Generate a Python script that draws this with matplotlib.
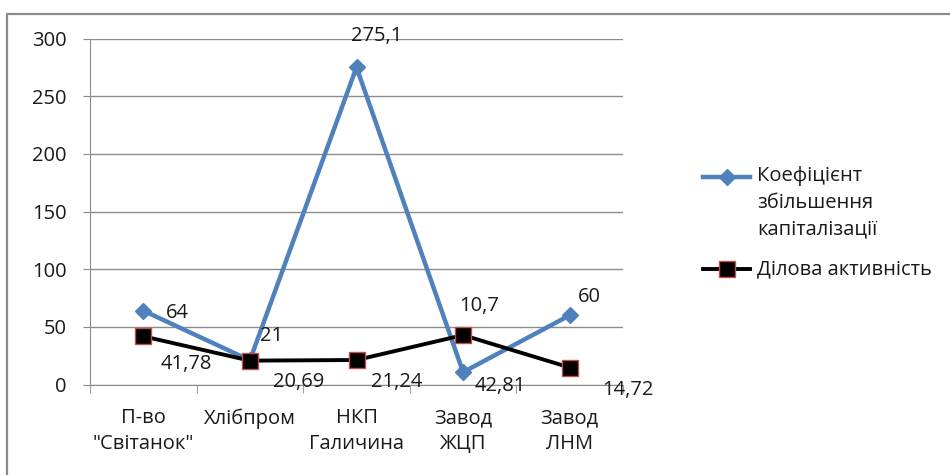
import matplotlib.pyplot as plt
from matplotlib.patches import Rectangle
from matplotlib.lines import Line2D

plt.rcParams['font.family'] = ['Open Sans', 'DejaVu Sans']

categories = ['П-во\n"Світанок"', 'Хлібпром', 'НКП\nГаличина', 'Завод\nЖЦП', 'Завод\nЛНМ']
kapital = [64, 21, 275.1, 10.7, 60]
dilova = [41.78, 20.69, 21.24, 42.81, 14.72]
kapital_label = 'Коефіцієнт\nзбільшення\nкапіталізації'
dilova_label = 'Ділова активність'

# label offsets in pixels (placement only)
kap_off = [(34, -2), (22, 24), (20, 31), (16, 66), (20, 18)]
dil_off = [(43, -28), (49, -21), (40, -22), (37, -51), (58, -22)]

blue = '#4F81BD'
grid_c = '#8c8c8c'
txt_c = '#1a1a1a'
fs = 14.5

fig = plt.figure(figsize=(9.5, 4.75), dpi=100)
ax = fig.add_axes([90 / 950, 1 - 384.5 / 475, 533 / 950, 346 / 475])

x = list(range(len(categories)))
ax.plot(x, kapital, color=blue, lw=3.2, marker='D', ms=8, mfc=blue, mec=blue, zorder=3)
ax.plot(x, dilova, color='black', lw=2.8, marker='s', ms=11.5, mfc='black', mec='#c0504d',
        mew=1, zorder=4)

for i in x:
    ax.annotate(f'{kapital[i]:g}'.replace('.', ','), (i, kapital[i]), xytext=kap_off[i],
                textcoords='offset pixels', ha='center', va='center', fontsize=fs, color=txt_c,
                zorder=5)
    ax.annotate(f'{dilova[i]:g}'.replace('.', ','), (i, dilova[i]), xytext=dil_off[i],
                textcoords='offset pixels', ha='center', va='center', fontsize=fs, color=txt_c,
                zorder=5)

ax.set_xlim(-0.5, len(categories) - 0.5)
ax.set_ylim(0, 300)
ax.set_yticks(range(0, 301, 50))
ax.yaxis.grid(True, color=grid_c, lw=1)
ax.set_axisbelow(True)
ax.set_xticks(x)
ax.set_xticklabels(categories, fontsize=fs, color=txt_c, linespacing=1.4)
ax.set_xticks([i - 0.5 for i in range(len(categories) + 1)], minor=True)
ax.tick_params(axis='x', which='major', length=0, pad=17)
ax.tick_params(axis='x', which='minor', length=6, color=grid_c, direction='out')
ax.tick_params(axis='y', length=5, color=grid_c, pad=12, labelsize=fs, labelcolor=txt_c)
for s in ['top', 'right']:
    ax.spines[s].set_visible(False)
for s in ['left', 'bottom']:
    ax.spines[s].set_color(grid_c)

# legend drawn by hand so the marker sits on the first text line
def fx(px):
    return px / 950

def fy(py):
    return 1 - py / 475

fig.add_artist(Line2D([fx(703), fx(750)], [fy(177), fy(177)], color=blue, lw=3.2))
fig.add_artist(Line2D([fx(727)], [fy(177)], color=blue, marker='D', ms=8))
fig.text(fx(757), fy(166), kapital_label, fontsize=fs, color=txt_c, va='top', linespacing=1.45)
fig.add_artist(Line2D([fx(703), fx(750)], [fy(269), fy(269)], color='black', lw=2.8))
fig.add_artist(Line2D([fx(727)], [fy(269)], color='black', marker='s', ms=11.5, mec='#c0504d', mew=1))
fig.text(fx(757), fy(269), dilova_label, fontsize=fs, color=txt_c, va='center')

fig.add_artist(Rectangle((fx(7), -0.1), 1.1, fy(14) + 0.1, transform=fig.transFigure,
                         fill=False, edgecolor='#8a8a8a', lw=1.6))

fig.savefig('out.png', dpi=100)
